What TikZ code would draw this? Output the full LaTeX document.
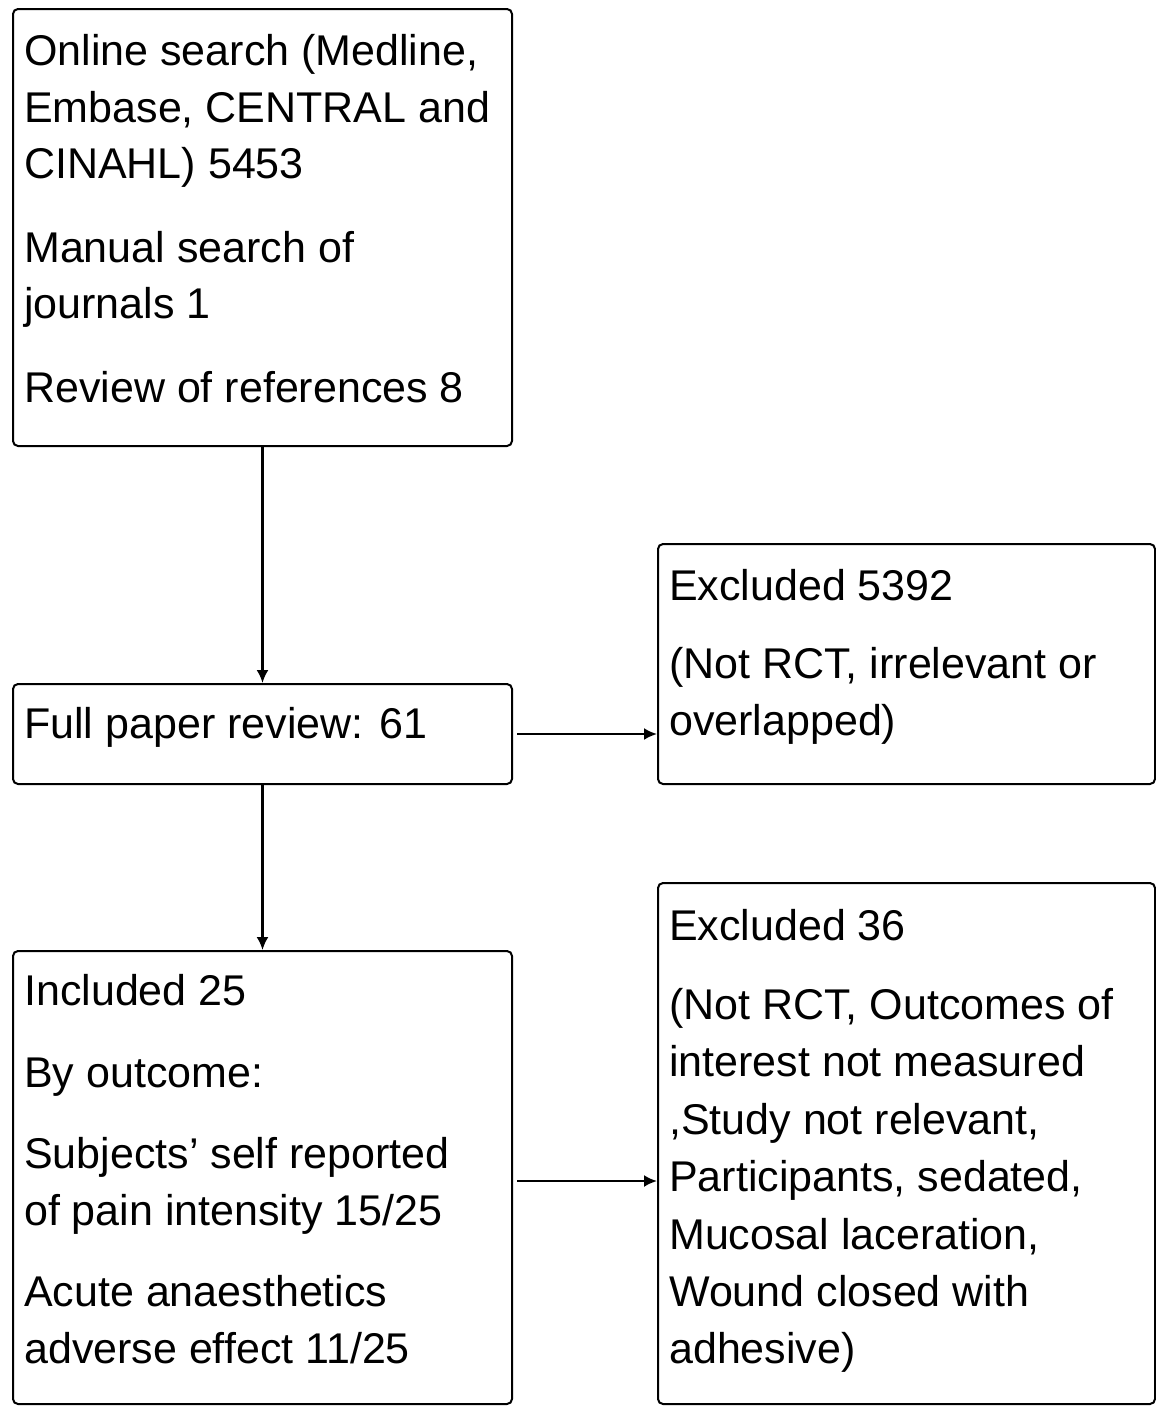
\documentclass[tikz,border=0pt]{standalone}
\usepackage{fontspec}
\setmainfont{Liberation Sans}
\usetikzlibrary{arrows.meta}
\begin{document}
\begin{tikzpicture}[x=1pt,y=-1pt,
  box/.style={draw=black, line width=2pt, rounded corners=5pt, anchor=north west, inner sep=0pt, fill=white},
  txt/.style={anchor=base west, inner sep=0pt, font=\fontsize{43}{50}\selectfont},
  arr/.style={draw=black, line width=2.2pt, -{Latex[length=13pt,width=12pt]}}]
\useasboundingbox[fill=white] (0,0) rectangle (1156,1406);
% boxes
\node[box, minimum width=499pt, minimum height=437pt] (b1) at (12,8) {};
\node[box, minimum width=499pt, minimum height=100pt] (b2) at (12,683) {};
\node[box, minimum width=499pt, minimum height=453pt] (b3) at (12,950) {};
\node[box, minimum width=497pt, minimum height=240pt] (b4) at (657,543) {};
\node[box, minimum width=497pt, minimum height=521pt] (b5) at (657,882) {};
% box 1 text
\node[txt] (t1a) at (24,65) {Online search (Medline,};
\node[txt] (t1b) at (24,122) {Embase, CENTRAL and};
\node[txt] (t1c) at (24,178) {CINAHL) 5453};
\node[txt] (t1d) at (24,262) {Manual search of};
\node[txt] (t1e) at (24,318) {journals 1};
\node[txt] (t1f) at (24,402) {Review of references 8};
% box 2 text
\node[txt] (t2a) at (24,738) {Full paper review: 61};
% box 3 text
\node[txt] (t3a) at (24,1005) {Included 25};
\node[txt] (t3b) at (24,1087) {By outcome:};
\node[txt] (t3c) at (24,1168) {Subjects’ self reported};
\node[txt] (t3d) at (24,1225) {of pain intensity 15/25};
\node[txt] (t3e) at (24,1306) {Acute anaesthetics};
\node[txt] (t3f) at (24,1363) {adverse effect 11/25};
% box 4 text
\node[txt] (t4a) at (669,600) {Excluded 5392};
\node[txt] (t4b) at (669,678) {(Not RCT, irrelevant or};
\node[txt] (t4c) at (669,735) {overlapped)};
% box 5 text
\node[txt] (t5a) at (669,940) {Excluded 36};
\node[txt] (t5b) at (669,1019) {(Not RCT, Outcomes of};
\node[txt] (t5c) at (669,1076) {interest not measured};
\node[txt] (t5d) at (669,1134) {,Study not relevant,};
\node[txt] (t5e) at (669,1191) {Participants, sedated,};
\node[txt] (t5f) at (669,1249) {Mucosal laceration,};
\node[txt] (t5g) at (669,1306) {Wound closed with};
\node[txt] (t5h) at (669,1363) {adhesive)};
% connectors
\draw[arr] (b1.south) -- (b2.north);
\draw[arr] (b2.south) -- (b3.north);
\draw[arr] ([xshift=4pt]b2.east) -- (b2.east -| b4.west);
\coordinate (c3) at ([shift={(4pt,-3.5pt)}]b3.east);
\draw[arr] (c3) -- (c3 -| b5.west);
\end{tikzpicture}
\end{document}
